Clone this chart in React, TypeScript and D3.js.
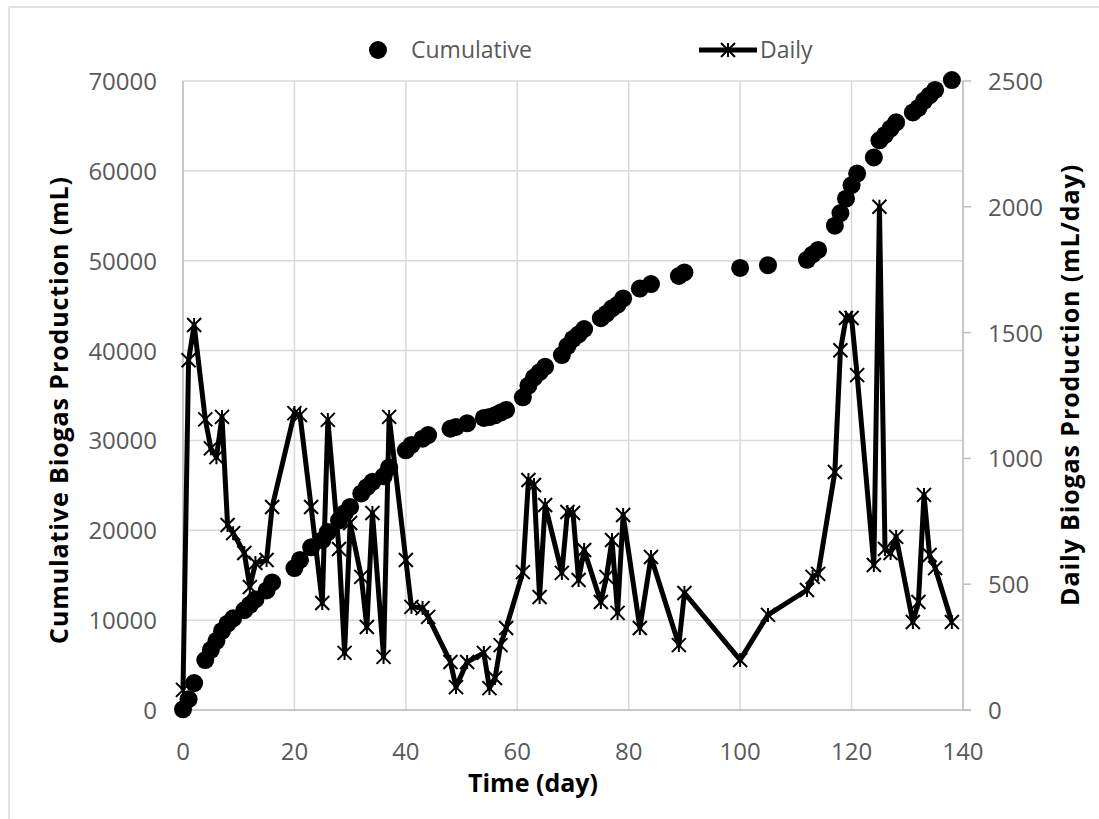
import React, { useEffect, useRef } from "react";
import * as d3 from "d3";

const days = [
  0, 1, 2, 4, 5, 6, 7, 8, 9, 11, 12, 13, 15, 16, 20, 21, 23, 25, 26, 28, 29,
  30, 32, 33, 34, 36, 37, 40, 41, 43, 44, 48, 49, 51, 54, 55, 56, 57, 58, 61,
  62, 63, 64, 65, 68, 69, 70, 71, 72, 75, 76, 77, 78, 79, 82, 84, 89, 90, 100,
  105, 112, 113, 114, 117, 118, 119, 120, 121, 124, 125, 126, 127, 128, 131,
  132, 133, 134, 135, 138,
];

const dailyValues = [
  80, 1390, 1530, 1155, 1040, 1005, 1165, 735, 703, 624, 489, 584, 596, 807,
  1180, 1172, 807, 425, 1153, 640, 227, 743, 529, 330, 783, 211, 1165, 596, 410,
  405, 370, 191, 91, 191, 227, 87, 127, 258, 326, 548, 914, 894, 449, 815, 545,
  787, 783, 517, 636, 429, 529, 676, 386, 775, 326, 608, 258, 465, 199, 378,
  477, 529, 541, 946, 1430, 1558, 1558, 1331, 576, 2000, 640, 624, 688, 350,
  429, 855, 616, 564, 350,
];

const cumulativeValues = [
  80, 1200, 3000, 5560, 6700, 7700, 8800, 9600, 10200, 11100, 11700, 12300,
  13300, 14200, 15800, 16700, 18100, 18900, 19800, 21100, 21900, 22600, 24100,
  24800, 25400, 26000, 27000, 28900, 29500, 30200, 30600, 31300, 31500, 31900,
  32500, 32600, 32800, 33100, 33400, 34800, 36100, 37000, 37600, 38200, 39500,
  40500, 41300, 41800, 42400, 43600, 44100, 44700, 45100, 45800, 46900, 47400,
  48300, 48700, 49200, 49500, 50100, 50700, 51200, 53900, 55300, 56900, 58400,
  59700, 61500, 63400, 64000, 64700, 65400, 66500, 67000, 67800, 68400, 69000,
  70100,
];

const xTicks = [0, 20, 40, 60, 80, 100, 120, 140];
const leftTicks = [0, 10000, 20000, 30000, 40000, 50000, 60000, 70000];
const rightTicks = [0, 500, 1000, 1500, 2000, 2500];

const FONT = "'Open Sans', 'Noto Sans', sans-serif";
const GREY = "#595959";

const App = () => {
  const svgRef = useRef<SVGSVGElement>(null);

  useEffect(() => {
    const width = 1099;
    const height = 819;
    const plot = { left: 183, right: 963, top: 81, bottom: 710 };

    const svg = d3.select(svgRef.current);
    svg.selectAll("*").remove();
    svg.attr("width", width).attr("height", height);

    svg.append("rect").attr("width", width).attr("height", height).attr("fill", "#fff");

    // chart border (only top and left edges visible in the crop)
    svg.append("line").attr("x1", 9).attr("x2", width).attr("y1", 7).attr("y2", 7)
      .attr("stroke", "#d9d9d9").attr("stroke-width", 1.5);
    svg.append("line").attr("x1", 9).attr("x2", 9).attr("y1", 7).attr("y2", height)
      .attr("stroke", "#d9d9d9").attr("stroke-width", 1.5);

    const x = d3.scaleLinear().domain([0, 140]).range([plot.left, plot.right]);
    const yLeft = d3.scaleLinear().domain([0, 70000]).range([plot.bottom, plot.top]);
    const yRight = d3.scaleLinear().domain([0, 2500]).range([plot.bottom, plot.top]);

    // gridlines
    const grid = svg.append("g").attr("stroke", "#d9d9d9").attr("stroke-width", 1.5);
    grid.selectAll(".gx").data(xTicks).enter().append("line")
      .attr("x1", (d) => x(d)).attr("x2", (d) => x(d))
      .attr("y1", plot.top).attr("y2", plot.bottom);
    grid.selectAll(".gy").data(leftTicks).enter().append("line")
      .attr("x1", plot.left).attr("x2", plot.right)
      .attr("y1", (d) => yLeft(d)).attr("y2", (d) => yLeft(d));

    // axis lines
    const axisColor = "#bfbfbf";
    svg.append("line").attr("x1", plot.left).attr("x2", plot.left)
      .attr("y1", plot.top).attr("y2", plot.bottom).attr("stroke", axisColor).attr("stroke-width", 1.5);
    svg.append("line").attr("x1", plot.left).attr("x2", plot.right + 8)
      .attr("y1", plot.bottom).attr("y2", plot.bottom).attr("stroke", axisColor).attr("stroke-width", 1.5);
    svg.append("line").attr("x1", plot.right).attr("x2", plot.right)
      .attr("y1", plot.top).attr("y2", plot.bottom).attr("stroke", axisColor).attr("stroke-width", 1.5);
    svg.selectAll(".rt").data(rightTicks).enter().append("line")
      .attr("x1", plot.right).attr("x2", plot.right + 8)
      .attr("y1", (d) => yRight(d)).attr("y2", (d) => yRight(d))
      .attr("stroke", axisColor).attr("stroke-width", 1.5);

    // tick labels
    svg.selectAll(".xl").data(xTicks).enter().append("text")
      .attr("x", (d) => x(d)).attr("y", 760).attr("text-anchor", "middle")
      .attr("font-family", FONT).attr("font-size", 24).attr("fill", GREY)
      .text((d) => d);
    svg.selectAll(".ll").data(leftTicks).enter().append("text")
      .attr("x", 157).attr("y", (d) => yLeft(d) + 9).attr("text-anchor", "end")
      .attr("font-family", FONT).attr("font-size", 24).attr("fill", GREY)
      .text((d) => d);
    svg.selectAll(".rl").data(rightTicks).enter().append("text")
      .attr("x", 988).attr("y", (d) => yRight(d) + 9).attr("text-anchor", "start")
      .attr("font-family", FONT).attr("font-size", 24).attr("fill", GREY)
      .text((d) => d);

    // axis titles
    svg.append("text").attr("x", 533).attr("y", 792).attr("text-anchor", "middle")
      .attr("font-family", FONT).attr("font-size", 25).attr("font-weight", "bold").attr("fill", "#000")
      .text("Time (day)");
    svg.append("text").attr("transform", "translate(68, 410) rotate(-90)")
      .attr("text-anchor", "middle").attr("letter-spacing", 0.9)
      .attr("font-family", FONT).attr("font-size", 25).attr("font-weight", "bold").attr("fill", "#000")
      .text("Cumulative Biogas Production (mL)");
    svg.append("text").attr("transform", "translate(1079, 385) rotate(-90)")
      .attr("text-anchor", "middle").attr("letter-spacing", 0.9)
      .attr("font-family", FONT).attr("font-size", 25).attr("font-weight", "bold").attr("fill", "#000")
      .text("Daily Biogas Production (mL/day)");

    const points = days.map((d, i) => ({ day: d, daily: dailyValues[i], cum: cumulativeValues[i] }));

    // cumulative markers
    svg.append("g").selectAll("circle").data(points).enter().append("circle")
      .attr("cx", (d) => x(d.day)).attr("cy", (d) => yLeft(d.cum)).attr("r", 9)
      .attr("fill", "#000");

    // daily line with star markers
    const line = d3.line<{ day: number; daily: number }>()
      .x((d) => x(d.day)).y((d) => yRight(d.daily));
    svg.append("path").datum(points).attr("d", line)
      .attr("fill", "none").attr("stroke", "#000").attr("stroke-width", 5)
      .attr("stroke-linejoin", "round");

    const star = (s: number) =>
      `M${-s},${-s}L${s},${s}M${-s},${s}L${s},${-s}M0,${-s}L0,${s}`;
    svg.append("g").selectAll("path").data(points).enter().append("path")
      .attr("transform", (d) => `translate(${x(d.day)},${yRight(d.daily)})`)
      .attr("d", star(7)).attr("stroke", "#000").attr("stroke-width", 2).attr("fill", "none");

    // legend
    const ly = 50;
    svg.append("circle").attr("cx", 378).attr("cy", ly).attr("r", 9).attr("fill", "#000");
    svg.append("text").attr("x", 411).attr("y", ly + 8).attr("font-family", FONT)
      .attr("font-size", 23).attr("fill", GREY).text("Cumulative");
    svg.append("line").attr("x1", 699).attr("x2", 757).attr("y1", ly).attr("y2", ly)
      .attr("stroke", "#000").attr("stroke-width", 5);
    svg.append("path").attr("transform", `translate(728,${ly})`).attr("d", star(7))
      .attr("stroke", "#000").attr("stroke-width", 2).attr("fill", "none");
    svg.append("text").attr("x", 760).attr("y", ly + 8).attr("font-family", FONT)
      .attr("font-size", 23).attr("fill", GREY).text("Daily");
  }, []);

  return (
    <svg
      ref={svgRef}
      style={{ position: "absolute", left: 0, top: 0, display: "block" }}
    ></svg>
  );
};

export default App;
